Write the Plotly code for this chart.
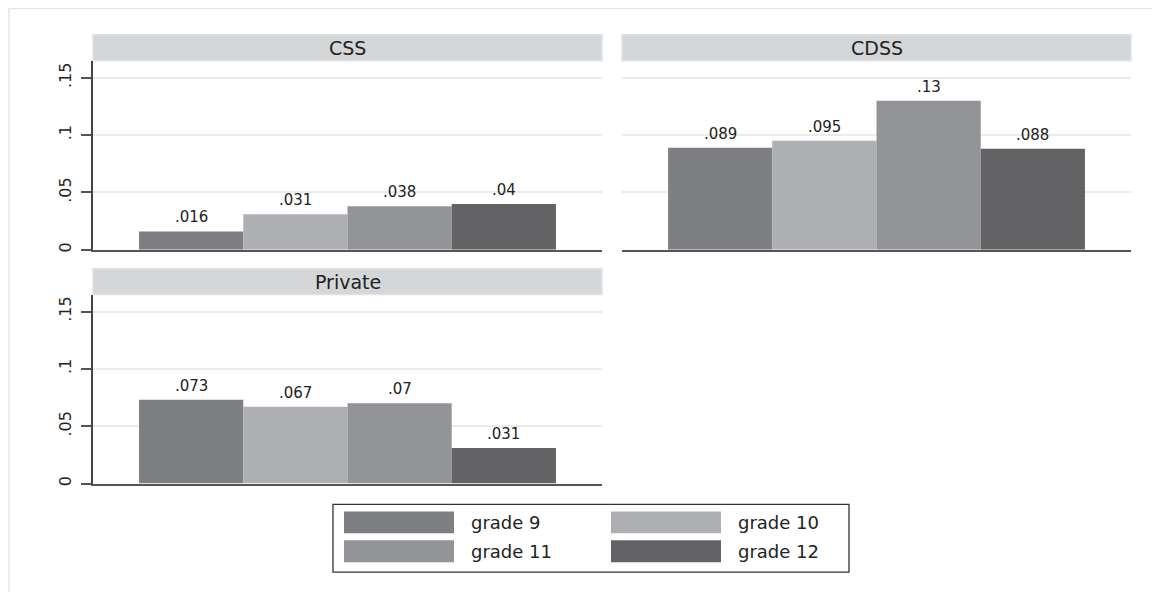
import plotly.graph_objects as go

# ---- data ----
panels = ["CSS", "CDSS", "Private"]
grades = ["grade 9", "grade 10", "grade 11", "grade 12"]
css_vals = [0.016, 0.031, 0.038, 0.040]
cdss_vals = [0.089, 0.095, 0.13, 0.088]
private_vals = [0.073, 0.067, 0.070, 0.031]
grade_colors = ["#7e7f83", "#aeafb2", "#939498", "#636366"]
y_ticks = [0, 0.05, 0.10, 0.15]
y_tick_text = ["0", ".05", ".1", ".15"]

W, H = 1160, 592
OFF = 8  # page body margin offset
FONT = "DejaVu Sans, Verdana, sans-serif"


def px_x(x):
    return (x - OFF) / W


def px_y(y):
    return 1 - (y - OFF) / H


def fmt(v):
    s = "{:g}".format(v)
    return s[1:] if s.startswith("0.") else s


fig = go.Figure()

panel_vals = [css_vals, cdss_vals, private_vals]
# pixel boxes for each panel plot region (left, right, top, bottom), reference coords
boxes = [(93, 602, 61, 251), (622, 1131, 61, 251), (93, 602, 296, 486)]
strip_tops = [35, 35, 270]

axis_names = [("x", "y"), ("x2", "y2"), ("x3", "y3")]

for p, (name, vals, box, (xa, ya)) in enumerate(zip(panels, panel_vals, boxes, axis_names)):
    for i, (g, v, c) in enumerate(zip(grades, vals, grade_colors)):
        fig.add_trace(go.Bar(
            x=[i + 1], y=[v], width=[1.0], name=g,
            marker=dict(color=c, line=dict(width=0)),
            showlegend=False, xaxis=xa, yaxis=ya, hoverinfo="y",
        ))
        fig.add_annotation(
            x=i + 1, y=v, xref=xa, yref=ya, text=fmt(v), showarrow=False,
            yanchor="bottom", yshift=3, font=dict(family=FONT, size=15, color="#222"),
        )
    l, r, t, b = box
    st = strip_tops[p]
    fig.add_shape(type="rect", xref="paper", yref="paper",
                  x0=px_x(l), x1=px_x(r), y0=px_y(t), y1=px_y(st),
                  fillcolor="#d5d6d8", line=dict(color="#dce3e8", width=1.5), layer="below")
    fig.add_annotation(xref="paper", yref="paper", x=px_x((l + r) / 2), y=px_y((st + t) / 2),
                       text=name, showarrow=False, xanchor="center", yanchor="middle",
                       font=dict(family=FONT, size=19, color="#222"))

layout_axes = {}
for p, box in enumerate(boxes):
    l, r, t, b = box
    sx = "" if p == 0 else str(p + 1)
    show_y = p != 1
    layout_axes["xaxis" + sx] = dict(
        domain=[px_x(l), px_x(r)], range=[0.058, 4.942], showgrid=False, zeroline=False,
        showticklabels=False, ticks="", showline=True, linecolor="#555", linewidth=1.5,
        anchor="y" + sx, fixedrange=True,
    )
    layout_axes["yaxis" + sx] = dict(
        domain=[px_y(b), px_y(t)], range=[0, 0.1648], tickvals=y_ticks, ticktext=y_tick_text,
        showgrid=True, gridcolor="#ebebeb", gridwidth=1.5, zeroline=False,
        showticklabels=show_y, ticks="outside" if show_y else "", ticklen=10, tickwidth=1.5,
        tickcolor="#555", tickangle=-90, showline=show_y, linecolor="#444", linewidth=1.5,
        ticklabelstandoff=4,
        tickfont=dict(family=FONT, size=16, color="#222"), anchor="x" + sx, fixedrange=True,
    )

# outer frame lines
fig.add_shape(type="line", xref="paper", yref="paper", x0=px_x(8.5), x1=1, y0=px_y(8.5), y1=px_y(8.5),
              line=dict(color="#e6e6e6", width=1.5))
fig.add_shape(type="line", xref="paper", yref="paper", x0=px_x(9), x1=px_x(9), y0=px_y(8.5), y1=0,
              line=dict(color="#e6e6e6", width=1.5))

# legend box
fig.add_shape(type="rect", xref="paper", yref="paper", x0=px_x(333), x1=px_x(849),
              y0=px_y(575), y1=px_y(507), line=dict(color="#333", width=1.3), fillcolor="white")
sw_x = [344, 611]
sw_y = [514, 543]
for i, (g, c) in enumerate(zip(grades, grade_colors)):
    col, row = i % 2, i // 2
    x0 = sw_x[col]
    y0 = sw_y[row]
    fig.add_shape(type="rect", xref="paper", yref="paper", x0=px_x(x0), x1=px_x(x0 + 110),
                  y0=px_y(y0 + 22), y1=px_y(y0), fillcolor=c, line=dict(width=0))
    fig.add_annotation(xref="paper", yref="paper", x=px_x(x0 + 125), y=px_y(y0 + 11),
                       text=g, showarrow=False, xanchor="left", yanchor="middle",
                       font=dict(family=FONT, size=18, color="#222"))

fig.update_layout(
    width=W, height=H, margin=dict(l=0, r=0, t=0, b=0),
    paper_bgcolor="white", plot_bgcolor="white", barmode="overlay",
    showlegend=False, **layout_axes,
)

fig.write_html("out.html")
